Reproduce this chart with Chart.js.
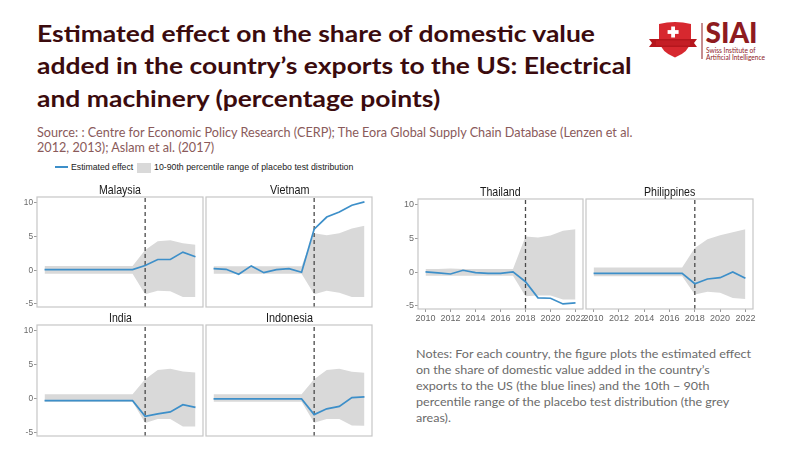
<!DOCTYPE html>
<html>
<head>
<meta charset="utf-8">
<script src="https://cdn.jsdelivr.net/npm/chart.js@4.4.0/dist/chart.umd.min.js"></script>
<style>
  body { margin:0; width:800px; height:450px; background:#fff; position:relative; overflow:hidden; font-family:Lato, sans-serif; }
  .abs { position:absolute; white-space:nowrap; transform-origin:left top; }
  #title { left:37px; top:17px; font-weight:bold; font-size:23px; line-height:32.3px; color:#3b0b0e; }
  #source { left:37px; top:124.5px; font-size:12.5px; line-height:15.5px; color:#8a5a5a; }
  #notes { left:416px; top:345.5px; font-size:12px; line-height:16px; color:#6b6b6b; }
  .legtxt { font-family:"Liberation Sans", Arial, sans-serif; font-size:9.3px; line-height:12px; color:#222; top:161px; }
  .ptitle { font-family:"Liberation Sans", Arial, sans-serif; font-size:13px; line-height:15px; color:#1a1a1a; }
  canvas { position:absolute; }
</style>
</head>
<body>

<div id="title" class="abs">Estimated effect on the share of domestic value<br>added in the country’s exports to the US: Electrical<br>and machinery (percentage points)</div>
<div id="source" class="abs">Source: : Centre for Economic Policy Research (CERP); The Eora Global Supply Chain Database (Lenzen et al.<br>2012, 2013); Aslam et al. (2017)</div>
<div id="notes" class="abs">Notes: For each country, the figure plots the estimated effect<br>on the share of domestic value added in the country’s<br>exports to the US (the blue lines) and the 10th − 90th<br>percentile range of the placebo test distribution (the grey<br>areas).</div>

<!-- logo -->
<svg class="abs" style="left:640px;top:15px" width="130" height="50" viewBox="640 15 130 50">
  <path d="M659 24 Q675 20 691 24 L691 41 Q689 52 675 57.5 Q661 52 659 41 Z" fill="#d7282f"/>
  <rect x="671.2" y="26.5" width="3.8" height="11" fill="#fff"/>
  <rect x="667.6" y="30.1" width="11" height="3.8" fill="#fff"/>
  <path d="M649 39 L697 39 L694 43 L697 47 L649 47 L652 43 Z" fill="#b5161d"/>
  <rect x="656" y="40.5" width="34" height="5" fill="#c41e25"/>
  <line x1="702" y1="23" x2="702" y2="59" stroke="#8e1b1f" stroke-width="1"/>
  <text x="705.5" y="43.2" font-family="Lato" font-weight="900" font-size="27.5" textLength="52" lengthAdjust="spacingAndGlyphs" fill="#8e1b1f">SIAI</text>
  <text x="706" y="53" font-family="Lato" font-size="6.6" fill="#8e1b1f">Swiss Institute of</text>
  <text x="706" y="59.5" font-family="Lato" font-size="6.6" fill="#8e1b1f">Artificial Intelligence</text>
</svg>

<!-- shared legend -->
<div class="abs" style="left:55px;top:166.2px;width:13px;height:1.6px;background:#3d8fc9"></div>
<div id="leg1" class="abs legtxt" style="left:70.5px">Estimated effect</div>
<div class="abs" style="left:137px;top:162.5px;width:14px;height:10px;background:#d9d9d9"></div>
<div id="leg2" class="abs legtxt" style="left:154px">10-90th percentile range of placebo test distribution</div>

<script>
// Years and axis ticks
const years = [2010, 2011, 2012, 2013, 2014, 2015, 2016, 2017, 2018, 2019, 2020, 2021, 2022];
const xTicks = [2010, 2012, 2014, 2016, 2018, 2020, 2022];
const yTicks = [-5, 0, 5, 10];
const policyYear = 2018;

// Estimated effect (blue lines) and 10-90th placebo band
const malaysiaEffect = [0.1, 0.1, 0.1, 0.1, 0.1, 0.1, 0.1, 0.1, 0.7, 1.6, 1.6, 2.7, 2.0];
const malaysiaLow    = [-0.5, -0.5, -0.5, -0.5, -0.5, -0.5, -0.5, -0.5, -3.55, -3.05, -3.1, -3.95, -3.95];
const malaysiaHigh   = [0.65, 0.65, 0.65, 0.65, 0.65, 0.65, 0.65, 0.65, 3.0, 4.3, 4.45, 4.0, 3.8];

const vietnamEffect = [0.25, 0.15, -0.6, 0.65, -0.35, 0.1, 0.25, -0.3, 6.1, 7.9, 8.65, 9.65, 10.15];
const vietnamLow    = [-0.5, -0.5, -0.5, -0.5, -0.5, -0.5, -0.5, -0.5, -3.55, -3.05, -3.35, -3.95, -3.95];
const vietnamHigh   = [0.6, 0.6, 0.6, 0.6, 0.6, 0.6, 0.6, 0.6, 5.5, 5.2, 5.5, 6.2, 6.6];

const indiaEffect = [-0.25, -0.25, -0.25, -0.25, -0.25, -0.25, -0.25, -0.25, -2.55, -2.2, -1.9, -0.85, -1.25];
const indiaLow    = [-0.4, -0.4, -0.4, -0.4, -0.4, -0.4, -0.4, -0.4, -3.55, -2.95, -2.95, -4.05, -4.05];
const indiaHigh   = [0.7, 0.7, 0.7, 0.7, 0.7, 0.7, 0.7, 0.7, 2.9, 4.25, 4.45, 4.05, 3.9];

const indonesiaEffect = [0, 0, 0, 0, 0, 0, 0, 0, -2.3, -1.45, -1.1, 0.2, 0.3];
const indonesiaLow    = [-0.4, -0.4, -0.4, -0.4, -0.4, -0.4, -0.4, -0.4, -3.5, -2.95, -2.95, -3.9, -3.95];
const indonesiaHigh   = [0.7, 0.7, 0.7, 0.7, 0.7, 0.7, 0.7, 0.7, 2.9, 4.25, 4.45, 4.0, 3.85];

const thailandEffect = [0.05, -0.1, -0.25, 0.3, -0.05, -0.15, -0.15, 0.05, -1.4, -3.8, -3.85, -4.7, -4.55];
const thailandLow    = [-0.5, -0.5, -0.5, -0.5, -0.5, -0.5, -0.5, -0.5, -3.55, -3.45, -3.45, -4.05, -4.05];
const thailandHigh   = [0.5, 0.5, 0.55, 0.5, 0.5, 0.5, 0.5, 0.5, 5.3, 5.15, 5.45, 6.15, 6.4];

const philippinesEffect = [-0.15, -0.15, -0.15, -0.15, -0.15, -0.15, -0.15, -0.15, -1.7, -1.0, -0.8, 0.05, -0.9];
const philippinesLow    = [-0.6, -0.6, -0.6, -0.6, -0.6, -0.6, -0.6, -0.6, -3.3, -2.9, -3.05, -3.8, -3.95];
const philippinesHigh   = [0.7, 0.7, 0.7, 0.7, 0.7, 0.7, 0.7, 0.7, 3.6, 4.9, 5.5, 5.95, 6.4];

const Y_MIN = -5.45, Y_MAX = 10.88;
const X_MIN = 2009.4, X_MAX = 2022.6;

// panel frame like ggplot's panel.border
const framePlugin = {
  id: 'frame',
  afterDatasetsDraw(chart) {
    const { ctx, chartArea: a } = chart;
    ctx.save();
    ctx.strokeStyle = '#c6c6c6';
    ctx.lineWidth = 1.2;
    ctx.strokeRect(a.left, a.top, a.right - a.left, a.bottom - a.top);
    ctx.restore();
  }
};

const pts = arr => years.map((x, i) => ({ x, y: arr[i] }));

function makePanel(name, rect, effect, low, high, showY, showX, titleW, fontSize) {
  const AX = showY ? 19 : 0, padL = 4, padR = 12, padT = 6, padB = 2, XAX = showX ? 13 : 0;
  const tickFont = { family: '"Liberation Sans", Arial, sans-serif', size: fontSize };
  const cv = document.createElement('canvas');
  const cw = rect.w + AX + padL + padR, ch = rect.h + padT + padB + XAX + 4;
  cv.width = cw; cv.height = ch;
  cv.style.left = (rect.l - AX - padL) + 'px';
  cv.style.top = (rect.t - padT) + 'px';
  cv.style.width = cw + 'px'; cv.style.height = ch + 'px';
  document.body.appendChild(cv);

  new Chart(cv.getContext('2d'), {
    type: 'line',
    data: {
      datasets: [
        { data: pts(effect), borderColor: '#3d8fc9', borderWidth: 1.7, pointRadius: 0, fill: false, order: 0 },
        { data: [{ x: policyYear, y: Y_MIN }, { x: policyYear, y: Y_MAX }], borderColor: '#4a4a4a', borderWidth: 1.3, borderDash: [4, 3], pointRadius: 0, fill: false, order: 1 },
        { data: pts(high), borderWidth: 0, borderColor: 'rgba(0,0,0,0)', backgroundColor: '#d9d9d9', pointRadius: 0, fill: '+1', order: 2 },
        { data: pts(low), borderWidth: 0, borderColor: 'rgba(0,0,0,0)', pointRadius: 0, fill: false, order: 3 }
      ]
    },
    options: {
      responsive: false,
      animation: false,
      layout: { padding: { left: padL, right: padR, top: padT, bottom: padB + 4 } },
      plugins: { legend: { display: false }, tooltip: { enabled: false } },
      elements: { line: { tension: 0 } },
      scales: {
        x: {
          type: 'linear', min: X_MIN, max: X_MAX, display: showX,
          afterBuildTicks: s => { s.ticks = xTicks.map(v => ({ value: v })); },
          afterFit: s => { s.height = XAX; s.paddingLeft = 0; s.paddingRight = 0; },
          ticks: { font: tickFont, color: '#666', padding: 1, maxRotation: 0, autoSkip: false, callback: v => String(v) },
          grid: { drawOnChartArea: false, tickLength: 3, color: '#9a9a9a' },
          border: { display: false }
        },
        y: {
          min: Y_MIN, max: Y_MAX, display: showY,
          afterBuildTicks: s => { s.ticks = yTicks.map(v => ({ value: v })); },
          afterFit: s => { s.width = AX; s.paddingTop = 0; s.paddingBottom = 0; },
          ticks: { font: tickFont, color: '#6a6a6a', padding: 1, callback: v => String(v) },
          grid: { drawOnChartArea: false, tickLength: 3, color: '#9a9a9a' },
          border: { display: false }
        }
      }
    },
    plugins: [framePlugin]
  });

  // strip title above the panel
  const t = document.createElement('div');
  t.className = 'abs ptitle';
  t.textContent = name;
  document.body.appendChild(t);
  t.style.left = (rect.l + rect.w / 2 - titleW / 2) + 'px';
  t.style.top = (rect.t - 14.8) + 'px';
  t.style.transform = 'scaleX(' + (titleW / t.scrollWidth) + ')';
}

makePanel('Malaysia',    { l: 37,  t: 197, w: 166, h: 110 }, malaysiaEffect, malaysiaLow, malaysiaHigh, true, false, 41.7, 8.3);
makePanel('Vietnam',     { l: 206, t: 197, w: 166, h: 110 }, vietnamEffect, vietnamLow, vietnamHigh, false, false, 39, 8.3);
makePanel('India',       { l: 37,  t: 325, w: 166, h: 111 }, indiaEffect, indiaLow, indiaHigh, true, false, 22.7, 8.3);
makePanel('Indonesia',   { l: 206, t: 325, w: 166, h: 111 }, indonesiaEffect, indonesiaLow, indonesiaHigh, false, false, 46.7, 8.3);
makePanel('Thailand',    { l: 418, t: 199, w: 165, h: 110 }, thailandEffect, thailandLow, thailandHigh, true, true, 40.7, 9);
makePanel('Philippines', { l: 586, t: 199, w: 167, h: 110 }, philippinesEffect, philippinesLow, philippinesHigh, false, true, 51.3, 9);

// squeeze text blocks to the widths they have in the picture
function fitX(id, w) {
  const el = document.getElementById(id);
  el.style.transform = 'scaleX(' + (w / el.scrollWidth) + ')';
}
fitX('title', 595);
fitX('source', 595);
fitX('notes', 335);
fitX('leg1', 62.7);
fitX('leg2', 199);
</script>
</body>
</html>
